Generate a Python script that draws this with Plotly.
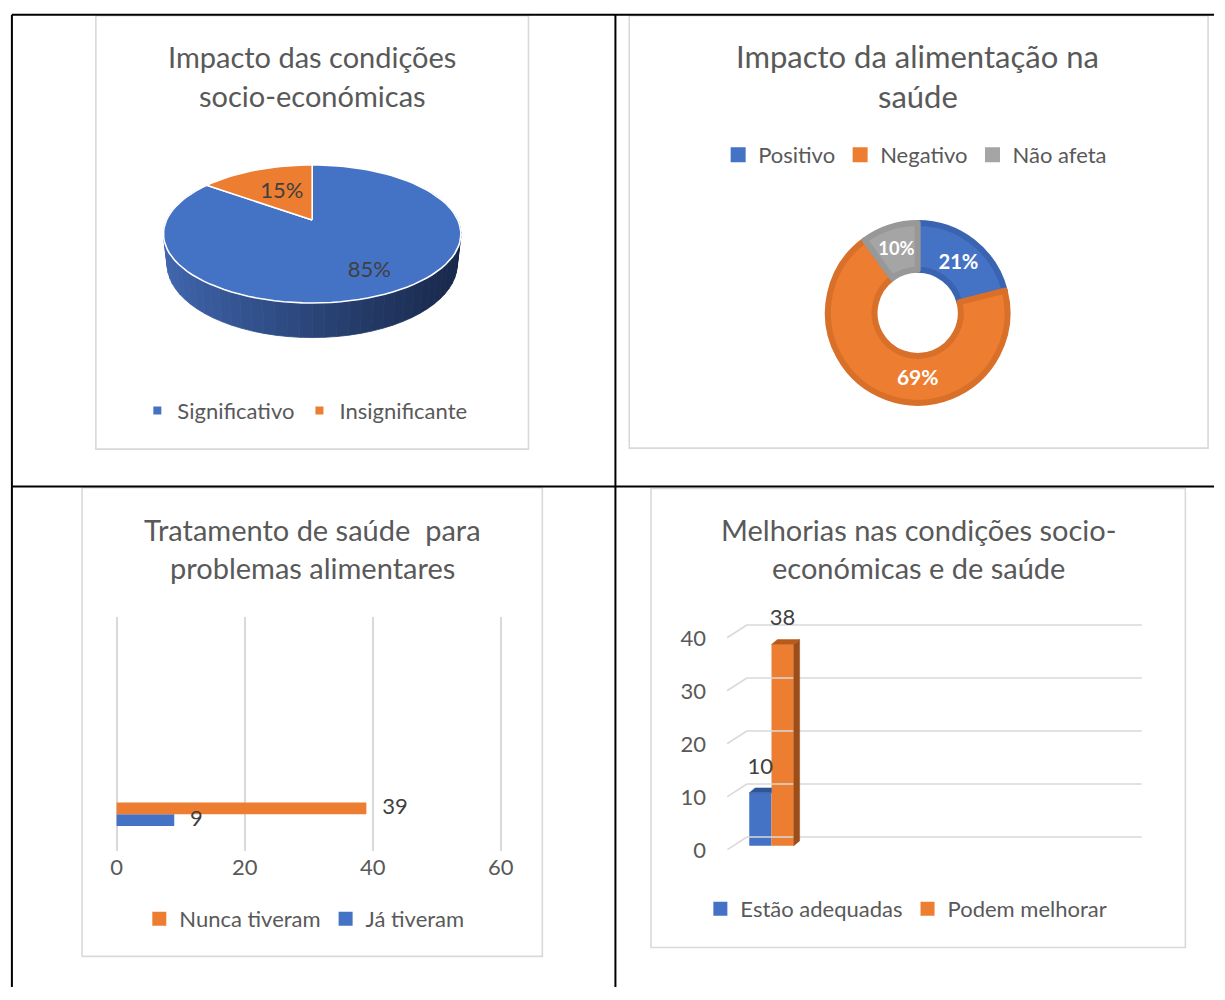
import math
import plotly.graph_objects as go

W, H = 1225, 1000

# ---------------- data ----------------
title1 = ["Impacto das condições", "socio-económicas"]
cat1 = ["Significativo", "Insignificante"]
val1 = [85, 15]

title2 = ["Impacto da alimentação na", "saúde"]
cat2 = ["Positivo", "Negativo", "Não afeta"]
val2 = [21, 69, 10]

title3 = ["Tratamento de saúde  para", "problemas alimentares"]
cat3 = ["Nunca tiveram", "Já tiveram"]
val3 = [39, 9]
ticks3 = [0, 20, 40, 60]

title4 = ["Melhorias nas condições socio-", "económicas e de saúde"]
cat4 = ["Estão adequadas", "Podem melhorar"]
val4 = [10, 38]
ticks4 = [0, 10, 20, 30, 40]

# ---------------- styles ----------------
BLUE, ORANGE, GRAY = "#4472C4", "#ED7D31", "#A5A5A5"
TXT = "#595959"
LBL = "#404040"
GRID = "#D9D9D9"
FONT = "Lato"
TSIZE = 29
FSIZE = 22


def fx(px):
    return px / W


def fy(py):
    return 1 - py / H


fig = go.Figure()

# ======== Chart 1 : 3D pie (perspective projection) ========
R = 147.5
tilt = math.asin(67.2 / R)
D = 5 * R * math.cos(tilt)
TH = 34.7


def proj(X, Y, Z):
    yup = Y * math.cos(tilt) + Z * math.sin(tilt)
    depth = Z * math.cos(tilt) - Y * math.sin(tilt)
    s = D / (D + depth)
    return X * s, yup * s


def rim(theta, Y=0.0, f=1.0):
    return proj(R * f * math.sin(theta), Y, R * f * math.cos(theta))


def lerp_col(c1, c2, t):
    a = [int(c1[i:i + 2], 16) for i in (1, 3, 5)]
    b = [int(c2[i:i + 2], 16) for i in (1, 3, 5)]
    return "rgb(%d,%d,%d)" % tuple(round(a[k] + (b[k] - a[k]) * t) for k in range(3))


# side band (gradient as strips)
NSEG = 60
th0, th1 = math.radians(60), math.radians(300)
xs_all = [rim(th0 + (th1 - th0) * k / NSEG)[0] for k in range(NSEG + 1)]
xmin, xmax = min(xs_all), max(xs_all)
for k in range(NSEG):
    a = th0 + (th1 - th0) * k / NSEG
    b = th0 + (th1 - th0) * (k + 1) / NSEG
    p1, p2 = rim(a), rim(b)
    p3, p4 = rim(b, -TH), rim(a, -TH)
    xm = (p1[0] + p2[0]) / 2
    t = (xm - xmin) / (xmax - xmin)
    col = lerp_col("#4066AE", "#18284A", min(1, max(0, t)) ** 0.9)
    fig.add_trace(go.Scatter(
        x=[p1[0], p2[0], p3[0], p4[0], p1[0]], y=[p1[1], p2[1], p3[1], p4[1], p1[1]],
        mode="lines", fill="toself", fillcolor=col, line=dict(color=col, width=0.8),
        hoverinfo="skip", showlegend=False, xaxis="x", yaxis="y"))

# top slices
cols1 = [BLUE, ORANGE]
tot1 = sum(val1)
cum = 0.0
mids1 = []
for v, c in zip(val1, cols1):
    a = 2 * math.pi * cum / tot1
    b = 2 * math.pi * (cum + v) / tot1
    n = max(4, int(120 * v / tot1))
    pts = [proj(0, 0, 0)] + [rim(a + (b - a) * k / n) for k in range(n + 1)] + [proj(0, 0, 0)]
    fig.add_trace(go.Scatter(
        x=[p[0] for p in pts], y=[p[1] for p in pts], mode="lines", fill="toself",
        fillcolor=c, line=dict(color="white", width=1.6), hoverinfo="skip",
        showlegend=False, xaxis="x", yaxis="y"))
    mids1.append((a + b) / 2)
    cum += v

lab_f = [0.75, 0.5]
lp = [rim(m, 0, f) for m, f in zip(mids1, lab_f)]
fig.add_trace(go.Scatter(
    x=[p[0] for p in lp], y=[p[1] for p in lp], mode="text",
    text=["%d%%" % round(100 * v / tot1) for v in val1],
    textfont=dict(family=FONT, size=FSIZE, color=LBL), hoverinfo="skip",
    showlegend=False, xaxis="x", yaxis="y", cliponaxis=False))

for name, c in zip(cat1, cols1):
    fig.add_trace(go.Scatter(x=[None], y=[None], mode="markers", name=name,
                             marker=dict(symbol="square", size=8, color=c),
                             legend="legend", xaxis="x", yaxis="y"))

# ======== Chart 2 : donut ========
cx2, cy2, r2 = 925, 317, 91
fig.add_trace(go.Pie(
    labels=cat2, values=val2, hole=0.48, sort=False, direction="clockwise", rotation=0,
    marker=dict(colors=[BLUE, ORANGE, GRAY],
                line=dict(color=["#3A64B2", "#D8702A", "#989898"], width=6)),
    textinfo="percent", textposition="inside", insidetextorientation="horizontal",
    textfont=dict(family=FONT, size=21, color="white", weight="bold"),
    domain=dict(x=[fx(cx2 - r2), fx(cx2 + r2)], y=[fy(cy2 + r2), fy(cy2 - r2)]),
    showlegend=False, hoverinfo="skip"))
for name, c in zip(cat2, [BLUE, ORANGE, GRAY]):
    fig.add_trace(go.Scatter(x=[None], y=[None], mode="markers", name=name,
                             marker=dict(symbol="square", size=15, color=c),
                             legend="legend2", xaxis="x", yaxis="y"))

# ======== Chart 3 : horizontal bars ========
BARGAP = 0.55
cols3 = [ORANGE, BLUE]
bw = (1 - BARGAP) / 2
for i in [1, 0]:
    fig.add_trace(go.Bar(x=[val3[i]], y=[0], orientation="h", name=cat3[i],
                         marker=dict(color=cols3[i], line=dict(width=0)),
                         showlegend=False, xaxis="x2", yaxis="y2", hoverinfo="skip"))
pxu3 = (503 - 114) / 60.0
off3 = 16 / pxu3
fig.add_trace(go.Scatter(
    x=[v + off3 for v in val3], y=[bw / 2, -bw / 2], mode="text",
    text=[str(v) for v in val3], textposition="middle right",
    textfont=dict(family=FONT, size=FSIZE, color=LBL), hoverinfo="skip",
    showlegend=False, xaxis="x2", yaxis="y2", cliponaxis=False))
for name, c in zip(cat3, cols3):
    fig.add_trace(go.Scatter(x=[None], y=[None], mode="markers", name=name,
                             marker=dict(symbol="square", size=14, color=c),
                             legend="legend3", xaxis="x2", yaxis="y2"))

# ======== Chart 4 : 3D columns ========
pxu4 = 5.37           # px per value unit
dxu, dyu = 0.06, 5 / pxu4   # bar depth offset
back_dy = 9 / pxu4
front_dy = -4 / pxu4
x_back0, x_front0 = -0.25, -0.45
x_end = 3.75
gx, gy = [], []
for v in ticks4:
    gx += [x_front0, x_back0, x_end, None]
    gy += [v + front_dy, v + back_dy, v + back_dy, None]
fig.add_trace(go.Scatter(x=gx, y=gy, mode="lines", line=dict(color=GRID, width=1.6),
                         hoverinfo="skip", showlegend=False, xaxis="x3", yaxis="y3"))

cols4 = [BLUE, ORANGE]
tops4 = ["#2F5597", "#B95A1C"]
for name, v, c in zip(cat4, val4, cols4):
    fig.add_trace(go.Bar(x=[0], y=[v], name=name, marker=dict(color=c, line=dict(width=0)),
                         showlegend=False, xaxis="x3", yaxis="y3", hoverinfo="skip"))
n4 = len(val4)
xl = [-(1 - BARGAP) / 2 + i * (1 - BARGAP) / n4 for i in range(n4)]
xr = [x + (1 - BARGAP) / n4 for x in xl]
i = n4 - 1
fig.add_trace(go.Scatter(
    x=[xr[i], xr[i], xr[i] + dxu, xr[i] + dxu, xr[i]],
    y=[0, val4[i], val4[i] + dyu, dyu, 0], mode="lines", fill="toself",
    fillcolor="#9C4E1A", line=dict(color="#9C4E1A", width=0.5), hoverinfo="skip",
    showlegend=False, xaxis="x3", yaxis="y3"))
for i in range(n4):
    right_back = xr[i] + dxu if i == n4 - 1 else xr[i]
    fig.add_trace(go.Scatter(
        x=[xl[i], xr[i], right_back, xl[i] + dxu, xl[i]],
        y=[val4[i], val4[i], val4[i] + dyu, val4[i] + dyu, val4[i]], mode="lines",
        fill="toself", fillcolor=tops4[i], line=dict(color=tops4[i], width=0.5),
        hoverinfo="skip", showlegend=False, xaxis="x3", yaxis="y3"))
fig.add_trace(go.Scatter(
    x=[(a + b) / 2 for a, b in zip(xl, xr)], y=[v + 4.65 for v in val4], mode="text",
    text=[str(v) for v in val4], textfont=dict(family=FONT, size=FSIZE, color=LBL),
    hoverinfo="skip", showlegend=False, xaxis="x3", yaxis="y3", cliponaxis=False))
for name, c in zip(cat4, cols4):
    fig.add_trace(go.Scatter(x=[None], y=[None], mode="markers", name=name,
                             marker=dict(symbol="square", size=14, color=c),
                             legend="legend4", xaxis="x3", yaxis="y3"))

# ---------------- layout ----------------
hidden = dict(visible=False, showgrid=False, zeroline=False)
ax_l, ax_r, ax_t, ax_b = 150, 475, 150, 360
apx, apy = 312, 223
pad3 = 0.3
layout = dict(
    width=W, height=H, margin=dict(l=0, r=0, t=0, b=0),
    paper_bgcolor="white", plot_bgcolor="rgba(0,0,0,0)",
    barmode="group", bargap=BARGAP, bargroupgap=0,
    font=dict(family=FONT, color=TXT),
    xaxis=dict(domain=[fx(ax_l), fx(ax_r)], range=[ax_l - apx, ax_r - apx], **hidden),
    yaxis=dict(domain=[fy(ax_b), fy(ax_t)], range=[apy - ax_b, apy - ax_t], **hidden),
    xaxis2=dict(domain=[fx(114 - pad3 * pxu3), fx(503 + pad3 * pxu3)],
                range=[-pad3, 60 + pad3], tickvals=ticks3,
                showgrid=True, gridcolor=GRID, gridwidth=1.6, zeroline=False,
                showline=False, ticks="", ticklabelstandoff=1,
                tickfont=dict(family=FONT, size=FSIZE, color=TXT), anchor="y2"),
    yaxis2=dict(domain=[fy(862), fy(625)], range=[-(862 - 825) * (1 - BARGAP) / 24,
                                                  (825 - 625) * (1 - BARGAP) / 24],
                visible=False, anchor="x2"),
    xaxis3=dict(domain=[fx(732), fx(1152)], range=[-0.45, 3.75], type="linear",
                visible=False, anchor="y3"),
    yaxis3=dict(domain=[fy(861), fy(620)], range=[-4 / pxu4, (857 - 620) / pxu4],
                tickvals=[v + front_dy for v in ticks4], ticktext=[str(v) for v in ticks4],
                showgrid=False, zeroline=False, showline=False,
                ticks="", ticklabelstandoff=20,
                tickfont=dict(family=FONT, size=FSIZE, color=TXT), anchor="x3"),
)

leg_common = dict(orientation="h", xanchor="left", yanchor="middle", bgcolor="rgba(0,0,0,0)",
                  font=dict(family=FONT, size=FSIZE, color=TXT), itemclick=False,
                  itemdoubleclick=False)
layout["legend"] = dict(x=fx(135), y=fy(416), **leg_common)
layout["legend2"] = dict(x=fx(723), y=fy(157), **leg_common)
layout["legend3"] = dict(x=fx(137), y=fy(931), **leg_common)
layout["legend4"] = dict(x=fx(705), y=fy(921), **leg_common)

ann = []
for lines, cx, ys, size in [(title1, 312, (57, 97), TSIZE), (title2, 925, (57, 97), TSIZE + 2),
                            (title3, 312, (536, 575), TSIZE), (title4, 926, (536, 575), TSIZE)]:
    for t, yy in zip(lines, ys):
        ann.append(dict(text=t, x=fx(cx), y=fy(yy), xref="paper", yref="paper",
                        xanchor="center", yanchor="middle", showarrow=False,
                        font=dict(family=FONT, size=size, color=TXT)))
layout["annotations"] = ann

shapes = []
for (x0, y0, x1, y1) in [(93, 16, 531, 455), (633, 16, 1219, 454),
                         (79, 494, 545, 969), (655, 495, 1196, 960)]:
    shapes.append(dict(type="rect", xref="paper", yref="paper", x0=fx(x0), x1=fx(x1),
                       y0=fy(y1), y1=fy(y0), line=dict(color=GRID, width=1.6)))
for (x0, y0, x1, y1) in [(8, 15, 1225, 15), (8, 493, 1225, 493),
                         (8, 15, 8, 1000), (619, 15, 619, 1000)]:
    shapes.append(dict(type="line", xref="paper", yref="paper", x0=fx(x0), x1=fx(x1),
                       y0=fy(y0), y1=fy(y1), line=dict(color="black", width=2)))
layout["shapes"] = shapes

fig.update_layout(**layout)
fig.write_html("out.html", config={"displayModeBar": False},
               post_script="document.body.style.margin='0px';document.body.style.overflow='hidden';")
